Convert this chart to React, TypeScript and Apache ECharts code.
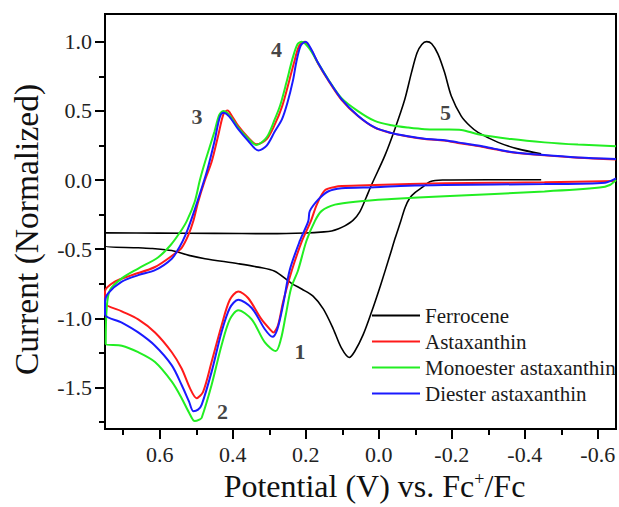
import React, { useEffect, useRef } from "react";
import * as echarts from "echarts";

const FONT = "'Liberation Serif', 'Times New Roman', serif";

const seriesNames = ["Ferrocene", "Astaxanthin", "Monoester astaxanthin", "Diester astaxanthin"];
const seriesColors = ["#000000", "#ff1a1a", "#22ee22", "#1a1aff"];

const potentialTicks = [0.6, 0.4, 0.2, 0, -0.2, -0.4, -0.6];
const potentialMinorTicks = [0.7, 0.5, 0.3, 0.1, -0.1, -0.3, -0.5];
const currentTicks = [-1.5, -1, -0.5, 0, 0.5, 1];
const currentMinorTicks = [-1.75, -1.25, -0.75, -0.25, 0.25, 0.75];

// [potential (V), normalized current]
const ferrocene = [
  [-0.445, 0.002], [-0.3, 0.002], [-0.175, 0.0], [-0.14, -0.012], [-0.121, -0.05], [-0.1, -0.09],
  [-0.085, -0.13], [-0.072, -0.2], [-0.06, -0.3], [-0.045, -0.42], [-0.03, -0.55], [-0.005, -0.76],
  [0.02, -0.956], [0.043, -1.12], [0.066, -1.24], [0.081, -1.283], [0.102, -1.216], [0.125, -1.074],
  [0.152, -0.932], [0.18, -0.84], [0.21, -0.79], [0.239, -0.747], [0.285, -0.66], [0.33, -0.63],
  [0.385, -0.605], [0.476, -0.569], [0.52, -0.545], [0.567, -0.51], [0.62, -0.495], [0.659, -0.49],
  [0.75, -0.478],
  [0.75, -0.382], [0.6, -0.384], [0.45, -0.386], [0.3, -0.388], [0.2, -0.383], [0.15, -0.375],
  [0.129, -0.368], [0.11, -0.352], [0.093, -0.332], [0.07, -0.29], [0.052, -0.23], [0.035, -0.13],
  [0.02, -0.036], [-0.017, 0.178], [-0.044, 0.367], [-0.071, 0.58], [-0.09, 0.78], [-0.105, 0.92],
  [-0.118, 0.98], [-0.131, 1.0], [-0.145, 0.985], [-0.162, 0.912], [-0.18, 0.78], [-0.199, 0.605],
  [-0.226, 0.462], [-0.25, 0.39], [-0.272, 0.344], [-0.327, 0.272], [-0.381, 0.225], [-0.445, 0.19],
];

const astaxanthin = [
  [-0.65, 0.149], [-0.546, 0.161], [-0.454, 0.178], [-0.363, 0.201], [-0.318, 0.222], [-0.272, 0.245],
  [-0.217, 0.268], [-0.18, 0.285], [-0.126, 0.297], [-0.08, 0.315], [-0.035, 0.339], [0.011, 0.378],
  [0.057, 0.462], [0.102, 0.58], [0.139, 0.723], [0.166, 0.841], [0.185, 0.94], [0.204, 1.0],
  [0.218, 0.97], [0.232, 0.85], [0.245, 0.72], [0.265, 0.53], [0.285, 0.4], [0.307, 0.296],
  [0.335, 0.258], [0.358, 0.308], [0.385, 0.391], [0.404, 0.47], [0.414, 0.502], [0.425, 0.48],
  [0.44, 0.32], [0.458, 0.13], [0.476, 0.0], [0.495, -0.16], [0.508, -0.297], [0.522, -0.4],
  [0.54, -0.49], [0.56, -0.535], [0.613, -0.629], [0.677, -0.688], [0.723, -0.735], [0.75, -0.806],
  [0.75, -0.889], [0.704, -0.949], [0.659, -1.008], [0.613, -1.102], [0.567, -1.245], [0.54, -1.363],
  [0.517, -1.506], [0.499, -1.577], [0.481, -1.529], [0.458, -1.316], [0.431, -1.055], [0.408, -0.866],
  [0.385, -0.806], [0.358, -0.853], [0.321, -1.008], [0.294, -1.091], [0.289, -1.102], [0.276, -1.05],
  [0.262, -0.88], [0.238, -0.652], [0.21, -0.439], [0.186, -0.297], [0.17, -0.18], [0.148, -0.075],
  [0.12, -0.05], [0.102, -0.043], [0.011, -0.036], [-0.18, -0.024], [-0.454, -0.017], [-0.65, -0.008],
];

const monoester = [
  [-0.65, 0.244], [-0.546, 0.256], [-0.454, 0.272], [-0.363, 0.296], [-0.272, 0.331], [-0.226, 0.362],
  [-0.18, 0.365], [-0.126, 0.367], [-0.08, 0.379], [-0.035, 0.396], [0.011, 0.427], [0.057, 0.498],
  [0.102, 0.592], [0.139, 0.73], [0.166, 0.845], [0.19, 0.95], [0.211, 1.0], [0.223, 0.98],
  [0.237, 0.87], [0.253, 0.704], [0.27, 0.54], [0.285, 0.438], [0.307, 0.308], [0.335, 0.253],
  [0.358, 0.301], [0.385, 0.379], [0.41, 0.47], [0.426, 0.498], [0.437, 0.47], [0.45, 0.35],
  [0.476, 0.13], [0.49, 0.0], [0.504, -0.155], [0.526, -0.297], [0.545, -0.38], [0.57, -0.47],
  [0.604, -0.558], [0.659, -0.64], [0.704, -0.711], [0.736, -0.794], [0.745, -0.913], [0.748, -1.186],
  [0.704, -1.198], [0.659, -1.245], [0.613, -1.316], [0.567, -1.458], [0.54, -1.577], [0.52, -1.68],
  [0.504, -1.743], [0.49, -1.73], [0.485, -1.719], [0.458, -1.482], [0.431, -1.198], [0.408, -1.008],
  [0.385, -0.942], [0.348, -1.008], [0.312, -1.174], [0.282, -1.236], [0.268, -1.15], [0.255, -0.98],
  [0.24, -0.78], [0.221, -0.652], [0.198, -0.439], [0.175, -0.297], [0.157, -0.225], [0.12, -0.178],
  [0.057, -0.155], [-0.035, -0.138], [-0.18, -0.117], [-0.454, -0.083], [-0.605, -0.055],
  [-0.633, -0.036], [-0.65, 0.0],
];

const diester = [
  [-0.65, 0.152], [-0.546, 0.163], [-0.454, 0.18], [-0.363, 0.203], [-0.318, 0.225], [-0.272, 0.249],
  [-0.217, 0.272], [-0.18, 0.288], [-0.126, 0.298], [-0.08, 0.316], [-0.035, 0.34], [0.011, 0.38],
  [0.057, 0.465], [0.102, 0.585], [0.139, 0.727], [0.166, 0.845], [0.185, 0.945], [0.2, 1.0],
  [0.214, 0.97], [0.226, 0.85], [0.235, 0.72], [0.25, 0.56], [0.265, 0.44], [0.285, 0.35],
  [0.307, 0.249], [0.33, 0.213], [0.358, 0.284], [0.385, 0.367], [0.41, 0.46], [0.426, 0.486],
  [0.436, 0.45], [0.45, 0.28], [0.47, 0.07], [0.49, -0.1], [0.515, -0.297], [0.53, -0.4],
  [0.545, -0.48], [0.567, -0.569], [0.613, -0.652], [0.659, -0.688], [0.704, -0.735], [0.741, -0.818],
  [0.75, -0.878],
  [0.75, -0.972], [0.704, -1.031], [0.659, -1.102], [0.613, -1.198], [0.567, -1.34], [0.54, -1.482],
  [0.52, -1.6], [0.508, -1.671], [0.495, -1.66], [0.485, -1.624], [0.458, -1.387], [0.431, -1.102],
  [0.408, -0.925], [0.385, -0.866], [0.348, -0.925], [0.312, -1.079], [0.291, -1.134], [0.278, -1.08],
  [0.262, -0.9], [0.244, -0.652], [0.216, -0.439], [0.193, -0.297], [0.189, -0.225], [0.166, -0.142],
  [0.139, -0.083], [0.102, -0.06], [0.011, -0.052], [-0.08, -0.041], [-0.18, -0.036], [-0.454, -0.029],
  [-0.62, -0.019], [-0.65, 0.011],
];

const peakLabels = [
  [0.216, -1.24, "1"],
  [0.428, -1.677, "2"],
  [0.498, 0.457, "3"],
  [0.28, 0.941, "4"],
  [-0.183, 0.486, "5"],
];

const seriesData = [ferrocene, astaxanthin, monoester, diester];

export default function App() {
  const ref = useRef<HTMLDivElement>(null);
  useEffect(() => {
    if (!ref.current) return;
    const chart = echarts.init(ref.current, null, { renderer: "svg" });
    const axisLineStyle = { color: "#000", width: 2 };
    const labelStyle = { fontSize: 22, color: "#222", fontFamily: FONT };
    const fmt = (v: number) => Number(v).toFixed(1);
    chart.setOption({
      animation: false,
      backgroundColor: "#fff",
      grid: {
        left: 105, right: 3, top: 14, bottom: 73,
        show: true, borderColor: "#000", borderWidth: 2, containLabel: false,
      },
      legend: {
        data: seriesNames,
        orient: "vertical",
        left: 372,
        top: 305,
        padding: 0,
        icon: "rect",
        itemWidth: 48,
        itemHeight: 2,
        itemGap: 5,
        textStyle: { fontSize: 21, color: "#1a1a1a", fontFamily: FONT, padding: [0, 0, 0, 0] },
      },
      xAxis: [
        {
          type: "value", min: -0.65, max: 0.75, inverse: true, position: "bottom",
          axisLine: { show: true, onZero: false, lineStyle: axisLineStyle },
          axisTick: { show: true, length: 10, lineStyle: { color: "#000", width: 2 }, customValues: potentialTicks },
          axisLabel: { ...labelStyle, margin: 14, customValues: potentialTicks, formatter: fmt },
          splitLine: { show: false },
          name: "Potential (V) vs. Fc{sup|+}/Fc",
          nameLocation: "middle",
          nameGap: 41,
          nameTextStyle: {
            fontSize: 32, color: "#111", fontFamily: FONT, padding: [0, 0, 0, 28],
            rich: { sup: { fontSize: 18, color: "#111", fontFamily: FONT, verticalAlign: "top", padding: [0, 0, 12, 0] } },
          },
        },
        {
          type: "value", min: -0.65, max: 0.75, inverse: true, position: "bottom",
          axisLine: { show: false, onZero: false },
          axisTick: { show: true, length: 6, lineStyle: { color: "#000", width: 2 }, customValues: potentialMinorTicks },
          axisLabel: { show: false },
          splitLine: { show: false },
        },
      ],
      yAxis: [
        {
          type: "value", min: -1.8, max: 1.2, position: "left",
          axisLine: { show: true, onZero: false, lineStyle: axisLineStyle },
          axisTick: { show: true, length: 10, lineStyle: { color: "#000", width: 2 }, customValues: currentTicks },
          axisLabel: { ...labelStyle, margin: 13, customValues: currentTicks, formatter: fmt },
          splitLine: { show: false },
          name: "Current (Normalized)",
          nameLocation: "middle",
          nameGap: 62,
          nameTextStyle: { fontSize: 33.5, color: "#111", fontFamily: FONT, padding: [0, 16, 0, 0] },
        },
        {
          type: "value", min: -1.8, max: 1.2, position: "left",
          axisLine: { show: false, onZero: false },
          axisTick: { show: true, length: 6, lineStyle: { color: "#000", width: 2 }, customValues: currentMinorTicks },
          axisLabel: { show: false },
          splitLine: { show: false },
        },
      ],
      series: [
        ...seriesData.map((d, i) => ({
          name: seriesNames[i],
          type: "line",
          data: d,
          xAxisIndex: 0,
          yAxisIndex: 0,
          showSymbol: false,
          symbol: "none",
          smooth: 0.3,
          lineStyle: { color: seriesColors[i], width: i === 0 ? 1.6 : 2 },
          itemStyle: { color: seriesColors[i] },
          z: 2 + i,
        })),
        {
          name: "peaks",
          type: "scatter",
          silent: true,
          symbolSize: 1,
          itemStyle: { color: "rgba(0,0,0,0)" },
          data: peakLabels.map(([x, y, t]) => ({ value: [x, y], name: t })),
          label: {
            show: true,
            position: "inside",
            formatter: (p: any) => p.name,
            fontSize: 22,
            fontWeight: "bold",
            color: "#111",
            fontFamily: FONT,
          },
          z: 10,
        },
      ],
    });
    return () => chart.dispose();
  }, []);
  return <div ref={ref} style={{ position: "fixed", left: 0, top: 0, width: 619, height: 507 }} />;
}
